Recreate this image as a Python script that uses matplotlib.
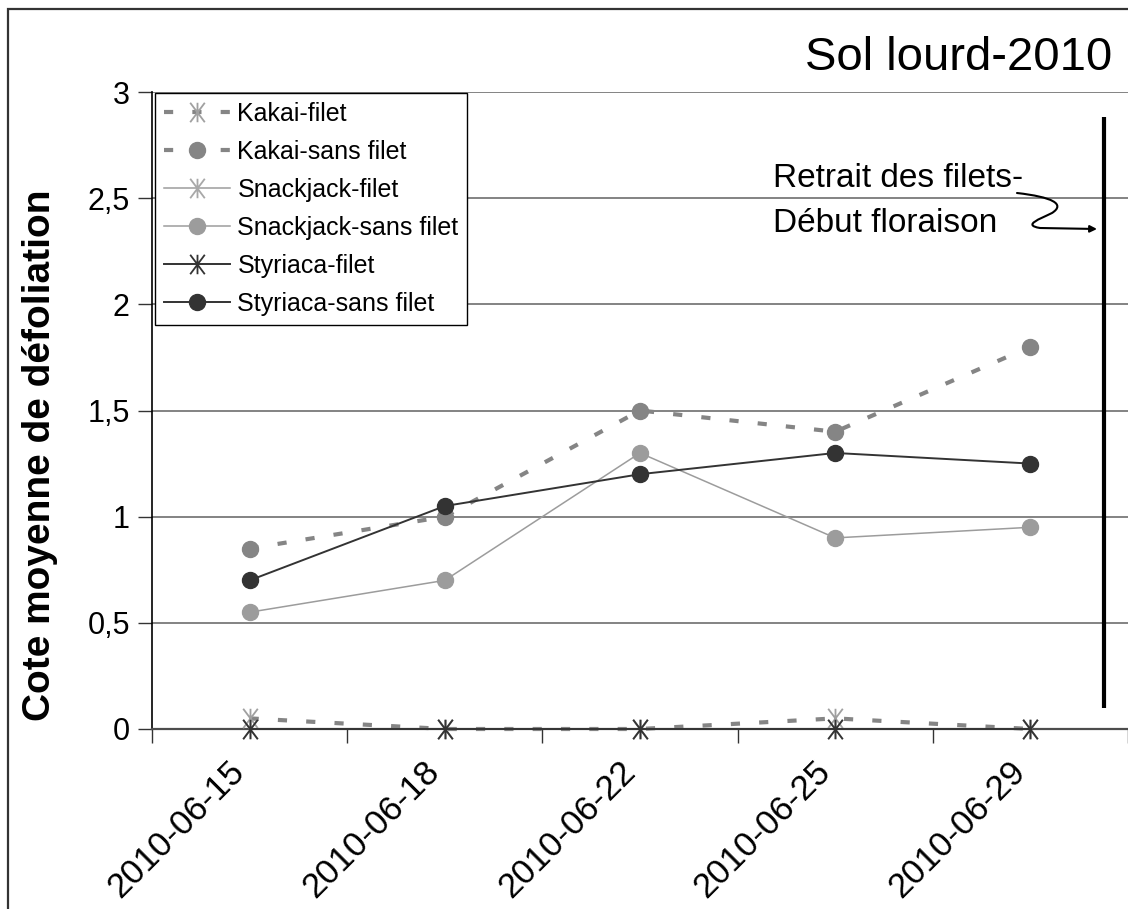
import numpy as np
import matplotlib
matplotlib.use('Agg')
import matplotlib.pyplot as plt
from matplotlib.path import Path
from matplotlib.patches import FancyArrowPatch, Rectangle
from matplotlib.transforms import ScaledTranslation

plt.rcParams['font.family'] = ['Liberation Sans', 'DejaVu Sans']

# data
dates = ['2010-06-15', '2010-06-18', '2010-06-22', '2010-06-25', '2010-06-29']
kakai_filet = [0.05, 0, 0, 0.05, 0]
kakai_sans = [0.85, 1.0, 1.5, 1.4, 1.8]
snack_filet = [0, 0, 0, 0, 0]
snack_sans = [0.55, 0.7, 1.3, 0.9, 0.95]
styr_filet = [0, 0, 0, 0, 0]
styr_sans = [0.7, 1.05, 1.2, 1.3, 1.25]
yticks = [0, 0.5, 1, 1.5, 2, 2.5, 3]
ytick_labels = ['0', '0,5', '1', '1,5', '2', '2,5', '3']

W, H = 1128, 909
fig = plt.figure(figsize=(W / 100, H / 100), dpi=100)

def px(x, y):
    return (x / W, 1 - y / H)

# axes placed in pixel units
left, top, bottom = 152, 92, 729
ax = fig.add_axes([left / W, 1 - bottom / H, 1 - left / W, (bottom - top) / H])

# star marker (x with vertical bar)
star = Path([(0, -1), (0, 1), (-0.75, -1), (0.75, 1), (-0.75, 1), (0.75, -1)],
            [Path.MOVETO, Path.LINETO, Path.MOVETO, Path.LINETO, Path.MOVETO, Path.LINETO])

x = np.arange(len(dates))
dash = (0, (2.2, 4.6))

c_k, c_s, c_y = '#858585', '#9c9c9c', '#333333'

ax.plot(x, kakai_filet, color=c_k, lw=3, ls=dash, dash_capstyle='butt', clip_on=False,
        marker=star, ms=14, mew=1.3, mec='#a0a0a0', label='Kakai-filet', zorder=3)
ax.plot(x, kakai_sans, color=c_k, lw=3, ls=dash, dash_capstyle='butt',
        marker='o', ms=11.5, mfc=c_k, mec=c_k, label='Kakai-sans filet', zorder=3)
ax.plot(x, snack_filet, color=c_s, lw=1.1, clip_on=False,
        marker=star, ms=14, mew=1.3, mec='#a8a8a8', label='Snackjack-filet', zorder=3)
ax.plot(x, snack_sans, color=c_s, lw=1.1,
        marker='o', ms=11.5, mfc=c_s, mec=c_s, label='Snackjack-sans filet', zorder=3)
ax.plot(x, styr_filet, color=c_y, lw=1.4, clip_on=False,
        marker=star, ms=14, mew=1.3, mec=c_y, label='Styriaca-filet', zorder=4)
ax.plot(x, styr_sans, color=c_y, lw=1.4,
        marker='o', ms=11.5, mfc=c_y, mec=c_y, label='Styriaca-sans filet', zorder=4)

ax.set_xlim(-0.5, (W - 249) / 197.0)
ax.set_ylim(0, 3)
ax.set_yticks(yticks)
ax.set_yticklabels(ytick_labels, fontsize=22)
ax.yaxis.grid(True, color='#7a7a7a', lw=1.3)
ax.set_axisbelow(True)

ax.set_xticks(np.arange(-0.5, len(dates), 1.0))
ax.set_xticklabels([])
ax.set_xticks(x, minor=True)
ax.set_xticklabels(dates, minor=True, fontsize=25, rotation=45,
                   ha='right', va='center', rotation_mode='anchor')
ax.tick_params(axis='x', which='minor', length=0, pad=27)
ax.tick_params(axis='x', which='major', length=10, width=1, color='#333333', direction='out')
ax.tick_params(axis='y', length=10, width=1, color='#333333', direction='out', pad=6)
for lbl in ax.get_xticklabels(minor=True):
    lbl.set_transform(lbl.get_transform() + ScaledTranslation(-0.1, 0, fig.dpi_scale_trans))

for s in ['top', 'right']:
    ax.spines[s].set_visible(False)
ax.spines['left'].set_color('black')
ax.spines['left'].set_linewidth(1.2)
ax.spines['bottom'].set_color('#4d4d4d')
ax.spines['bottom'].set_linewidth(1.6)
ax.spines['bottom'].set_zorder(2.5)

leg = ax.legend(loc='upper left', bbox_to_anchor=(0.003, 0.998), borderaxespad=0,
                fontsize=18, handlelength=2.65, handletextpad=0.3,
                labelspacing=0.56, borderpad=0.35, fancybox=False,
                framealpha=1, edgecolor='black')
leg.get_frame().set_linewidth(1.0)

# vertical marker line
ax.vlines((1111 - 249) / 197.0, 0.1, 2.88, color='black', lw=3)

# annotation text
fig.text(*px(773, 187), 'Retrait des filets-', fontsize=24, ha='left', va='baseline')
fig.text(*px(773, 232), 'Début floraison', fontsize=24, ha='left', va='baseline')

verts = [px(1017, 193), px(1052, 197), px(1066, 204), px(1052, 213),
         px(1040, 219), px(1022, 225), px(1040, 228), px(1097, 229)]
codes = [Path.MOVETO, Path.CURVE4, Path.CURVE4, Path.CURVE4,
         Path.CURVE4, Path.CURVE4, Path.CURVE4, Path.LINETO]
arrow = FancyArrowPatch(path=Path(verts, codes), arrowstyle='-|>', mutation_scale=10,
                        color='black', lw=1.5, transform=fig.transFigure)
fig.add_artist(arrow)

# title
fig.text(*px(1112, 70), 'Sol lourd-2010', fontsize=34, ha='right', va='baseline')

# y label
fig.text(*px(40, 455), 'Cote moyenne de défoliation', fontsize=28, fontweight='bold',
         rotation=90, ha='center', va='center')

# outer frame
fig.add_artist(Rectangle(px(8, 940), 1.2, (940 - 9) / H, transform=fig.transFigure,
                         fill=False, edgecolor='#333333', lw=1.6))

fig.savefig('out.png', dpi=100)
